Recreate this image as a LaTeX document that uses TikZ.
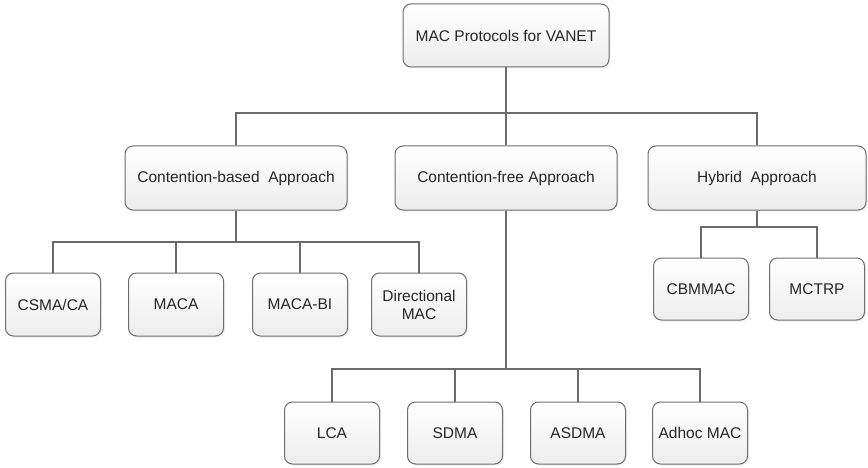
\documentclass[tikz,border=0pt]{standalone}
\usepackage{fontspec}
\setmainfont{Liberation Sans}
\usetikzlibrary{shadows}
\definecolor{edgegray}{HTML}{6E6E6E}
\definecolor{linegray}{HTML}{6A6A6A}
\definecolor{txt}{HTML}{262626}
\begin{document}
\begin{tikzpicture}[x=1pt,y=1pt,
  box/.style={draw=edgegray, line width=1pt, rounded corners=8pt,
    top color=white, bottom color=black!7, text=txt,
    drop shadow={opacity=0.12, shadow xshift=1.5pt, shadow yshift=-1.5pt},
    font=\fontsize{15.5}{18}\selectfont, align=center, inner sep=0pt},
  wide/.style={box, minimum width=222pt, minimum height=64pt},
  small/.style={box, minimum width=95pt, minimum height=63pt},
  conn/.style={draw=linegray, line width=1.2pt}]
\useasboundingbox (0,0) rectangle (868,-468);
% top
\node[box, minimum width=206pt, minimum height=63pt] (top) at (506,-35.5) {MAC Protocols for VANET};
% level 1
\node[wide] (cb) at (236,-178) {Contention-based\ \ Approach};
\node[wide] (cf) at (506,-178) {Contention-free Approach};
\node[wide, minimum width=218pt] (hy) at (757,-178) {Hybrid\ \ Approach};
% contention-based children
\node[small] (c1) at (53,-304.5) {CSMA/CA};
\node[small] (c2) at (176,-304.5) {MACA};
\node[small] (c3) at (300,-304.5) {MACA-BI};
\node[small] (c4) at (419,-304.5) {Directional\\MAC};
% hybrid children
\node[small, minimum height=62pt] (h1) at (701,-289) {CBMMAC};
\node[small, minimum height=62pt] (h2) at (817,-289) {MCTRP};
% contention-free children
\node[small, minimum height=62pt] (d1) at (332,-433) {LCA};
\node[small, minimum height=62pt] (d2) at (455,-433) {SDMA};
\node[small, minimum height=62pt] (d3) at (578,-433) {ASDMA};
\node[small, minimum height=62pt] (d4) at (700,-433) {Adhoc MAC};
% bars
\coordinate (b1) at (506,-113);
\coordinate (b2) at (236,-242);
\coordinate (b3) at (506,-369);
\coordinate (b4) at (757,-227);
% connectors
\draw[conn] (top.south) -- (cf.north);
\draw[conn] (cb.north) |- (b1) -| (hy.north);
\draw[conn] (cb.south) -- (b2);
\draw[conn] (c1.north) |- (b2) -| (c4.north);
\draw[conn] (c2.north) -- (c2.north |- b2);
\draw[conn] (c3.north) -- (c3.north |- b2);
\draw[conn] (hy.south) -- (b4);
\draw[conn] (h1.north) |- (b4) -| (h2.north);
\draw[conn] (cf.south) -- (b3);
\draw[conn] (d1.north) |- (b3) -| (d4.north);
\draw[conn] (d2.north) -- (d2.north |- b3);
\draw[conn] (d3.north) -- (d3.north |- b3);
\end{tikzpicture}
\end{document}
